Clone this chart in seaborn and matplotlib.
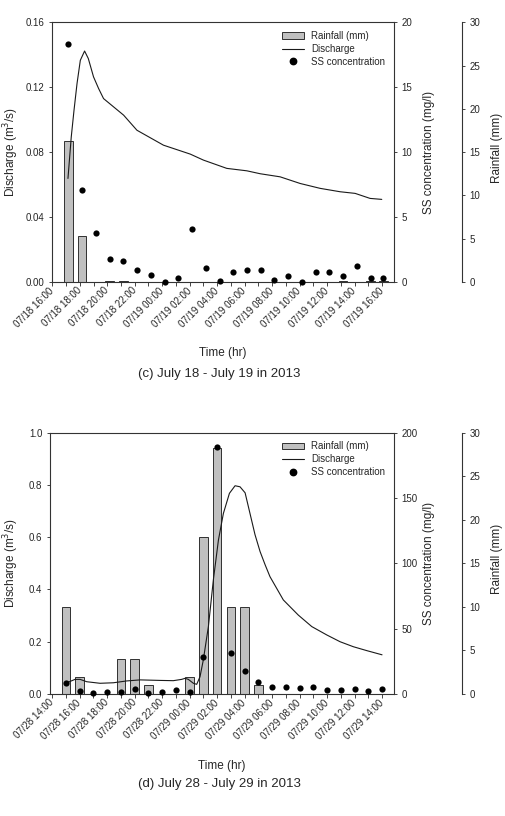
import numpy as np
import pandas as pd
import matplotlib
matplotlib.use("Agg")
import matplotlib.pyplot as plt
import matplotlib.dates as mdates
from matplotlib.patches import Patch
from matplotlib.lines import Line2D
import seaborn as sns

# ---------------- data: panel (c) July 18 - 19 ----------------
start_c = "2013-07-18 16:00"
sample_hours_c = [1.17, 2.17, 3.17, 4.17, 5.17, 6.17, 7.17, 8.17, 9.17, 10.17, 11.17, 12.17,
                  13.17, 14.17, 15.17, 16.17, 17.17, 18.17, 19.17, 20.17, 21.17, 22.17, 23.17, 24.1]
rain_c = [16.3, 5.3, 0, 0.15, 0.15, 0, 0, 0, 0, 0, 0, 0,
          0, 0, 0, 0, 0, 0, 0, 0, 0.15, 0, 0.15, 0.15]
ss_c = [18.3, 7.1, 3.8, 1.8, 1.6, 0.9, 0.55, 0.0, 0.3, 4.1, 1.05, 0.1,
        0.8, 0.95, 0.95, 0.15, 0.45, 0.0, 0.75, 0.8, 0.45, 1.25, 0.3, 0.3]
q_hours_c = [1.14, 1.38, 1.58, 1.80, 2.04, 2.35, 2.62, 3.00, 3.37, 3.73, 5.19, 6.16, 8.09,
             10.04, 11.0, 12.7, 14.16, 15.13, 16.58, 18.04, 19.49, 20.95, 22.04, 23.13, 23.98]
q_c = [0.0638, 0.0894, 0.1058, 0.1223, 0.1366, 0.1423, 0.1377, 0.1264, 0.1192, 0.1130, 0.1028,
       0.0935, 0.0843, 0.0788, 0.0751, 0.0700, 0.0685, 0.0667, 0.0648, 0.0607, 0.0577, 0.0556,
       0.0546, 0.0515, 0.0509]

# ---------------- data: panel (d) July 28 - 29 ----------------
start_d = "2013-07-28 14:00"
sample_hours_d = [1, 2, 3, 4, 5, 6, 7, 8, 9, 10, 11, 12, 13, 14, 15, 16, 17, 18, 19, 20, 21, 22, 23, 24]
rain_d = [10, 2, 0, 0, 4, 4, 1, 0, 0, 2, 18, 28.2, 10, 10, 1, 0, 0, 0, 0, 0, 0, 0, 0, 0]
ss_d = [8.2, 2.6, 1.0, 1.2, 1.8, 4.1, 0.5, 1.2, 3.1, 1.2, 28.1, 188.8, 31.1, 17.9, 9.0,
        5.6, 5.1, 4.8, 5.1, 3.1, 2.8, 3.8, 2.6, 4.1]
q_hours_d = [0.99, 1.67, 2.04, 2.52, 3.49, 4.46, 5.43, 6.40, 7.85, 8.82, 9.43, 9.67, 9.91,
             10.28, 10.52, 10.76, 11.0, 11.37, 11.73, 12.1, 12.46, 12.9, 13.31, 13.67, 14.04,
             14.4, 14.76, 15.13, 15.5, 15.85, 16.82, 17.91, 18.89, 19.98, 20.95, 21.91, 22.89, 24.0]
q_d = [0.041, 0.056, 0.056, 0.047, 0.041, 0.043, 0.050, 0.054, 0.052, 0.051, 0.056, 0.060,
       0.056, 0.041, 0.037, 0.066, 0.130, 0.258, 0.436, 0.589, 0.691, 0.768, 0.797, 0.793,
       0.770, 0.690, 0.610, 0.545, 0.494, 0.449, 0.360, 0.302, 0.258, 0.226, 0.200, 0.181,
       0.166, 0.150]

legend_labels = ["Rainfall (mm)", "Discharge", "SS concentration"]
ylabel_q = "Discharge (m$^3$/s)"
ylabel_ss = "SS concentration (mg/l)"
ylabel_rain = "Rainfall (mm)"
xlabel = "Time (hr)"
caption_c = "(c) July 18 - July 19 in 2013"
caption_d = "(d) July 28 - July 29 in 2013"

# ---------------- style ----------------
sns.set_theme(style="ticks")
plt.rcParams["font.family"] = ["Liberation Sans", "DejaVu Sans"]
TXT = "#262626"
plt.rcParams.update({
    "text.color": TXT, "axes.labelcolor": TXT,
    "xtick.color": TXT, "ytick.color": TXT,
    "axes.edgecolor": "#333333", "axes.linewidth": 0.8,
})

W, H = 506, 816
fig = plt.figure(figsize=(W / 100, H / 100), dpi=100)
fig.patch.set_facecolor("white")


def fx(px):
    return px / W


def fy(py):
    return 1 - py / H


def panel(box, start, xlim_h, s_hours, rain, ss, qh, q, qmax, qstep, qfmt, ssmax, ssstep,
          caption, xlab_y, cap_y):
    l, t, r, b = box
    ax = fig.add_axes([fx(l), fy(b), fx(r - l), (b - t) / H])
    ax_r = ax.twinx()
    ax_s = ax.twinx()
    ax_r.set_zorder(1)
    ax.set_zorder(2)
    ax_s.set_zorder(3)
    for a in (ax, ax_r, ax_s):
        a.patch.set_visible(False)

    t0 = pd.Timestamp(start)
    s_times = [t0 + pd.Timedelta(hours=h) for h in s_hours]
    q_times = [t0 + pd.Timedelta(hours=h) for h in qh]

    # rainfall bars
    ax_r.bar(s_times, rain, width=0.62 / 24, color="#c0c0c0", edgecolor="#303030",
             linewidth=0.7, align="center")
    # discharge line
    sns.lineplot(x=q_times, y=q, ax=ax, color="#1a1a1a", linewidth=0.8, sort=False,
                 legend=False)
    # SS points
    sns.scatterplot(x=s_times, y=ss, ax=ax_s, color="black", s=20, linewidth=0,
                    legend=False, clip_on=False, zorder=5)

    ax.set_xlim(t0 + pd.Timedelta(hours=xlim_h[0]), t0 + pd.Timedelta(hours=xlim_h[1]))
    ax.set_ylim(0, qmax)
    ax.set_yticks(np.arange(0, qmax + 1e-9, qstep))
    ax.yaxis.set_major_formatter(matplotlib.ticker.FormatStrFormatter(qfmt))
    ax_s.set_ylim(0, ssmax)
    ax_s.set_yticks(np.arange(0, ssmax + 1e-9, ssstep))
    ax_r.set_ylim(0, 30)
    ax_r.set_yticks(np.arange(0, 31, 5))

    ax.xaxis.set_major_locator(mdates.HourLocator(byhour=range(0, 24, 2)))
    ax.xaxis.set_minor_locator(mdates.HourLocator())
    ax.xaxis.set_major_formatter(mdates.DateFormatter("%m/%d %H:%M"))
    ax.tick_params(axis="x", which="both", direction="out", length=3.2, width=0.6, pad=2,
                   labelsize=7)
    for lab in ax.get_xticklabels():
        lab.set_rotation(45)
        lab.set_ha("right")
        lab.set_va("center")
        lab.set_rotation_mode("anchor")
    ax.tick_params(axis="y", direction="out", length=2.5, width=0.6, pad=3, labelsize=7)
    ax_s.tick_params(axis="y", direction="out", length=2.5, width=0.6, pad=3, labelsize=7)
    ax_r.tick_params(axis="y", direction="out", length=2.5, width=0.6, pad=3, labelsize=7)
    ax.set_xlabel("")
    ax.set_ylabel("")
    ax_s.set_ylabel("")
    ax_r.set_ylabel("")

    ax.spines["right"].set_visible(False)
    for sp in ("top", "left", "bottom"):
        ax_s.spines[sp].set_visible(False)
        ax_r.spines[sp].set_visible(False)
    ax.spines["top"].set_visible(True)
    ax_r.spines["right"].set_position(("outward", 48.7))

    # axis titles
    cy = (t + b) / 2
    fig.text(fx(11), fy(cy), ylabel_q, rotation=90, ha="center", va="center", fontsize=8.5)
    fig.text(fx(429), fy(cy), ylabel_ss, rotation=90, ha="center", va="center", fontsize=8.5)
    fig.text(fx(497), fy(cy - 4), ylabel_rain, rotation=90, ha="center", va="center",
             fontsize=8.5)
    fig.text(fx((l + r) / 2), fy(xlab_y), xlabel, ha="center", va="center", fontsize=8.5)
    fig.text(fx(219), fy(cap_y), caption, ha="center", va="center", fontsize=9.5)

    handles = [Patch(facecolor="#c0c0c0", edgecolor="#303030", linewidth=0.7),
               Line2D([], [], color="#1a1a1a", lw=0.8),
               Line2D([], [], marker="o", color="black", lw=0, markersize=4.6)]
    ax_s.legend(handles, legend_labels, loc="upper right", frameon=False, fontsize=7,
                handlelength=2.3, handletextpad=0.75, labelspacing=0.3, borderaxespad=0.5,
                numpoints=1)


panel((52.3, 22.3, 394, 282), start_c, (0.0, 24.87), sample_hours_c, rain_c, ss_c,
      q_hours_c, q_c, 0.16, 0.04, "%.2f", 20, 5, caption_c, 352.7, 374)
panel((50, 432.7, 394, 694), start_d, (-0.15, 24.87), sample_hours_d, rain_d, ss_d,
      q_hours_d, q_d, 1.0, 0.2, "%.1f", 200, 50, caption_d, 765.7, 784)

fig.savefig("out.png", dpi=100, facecolor="white")
